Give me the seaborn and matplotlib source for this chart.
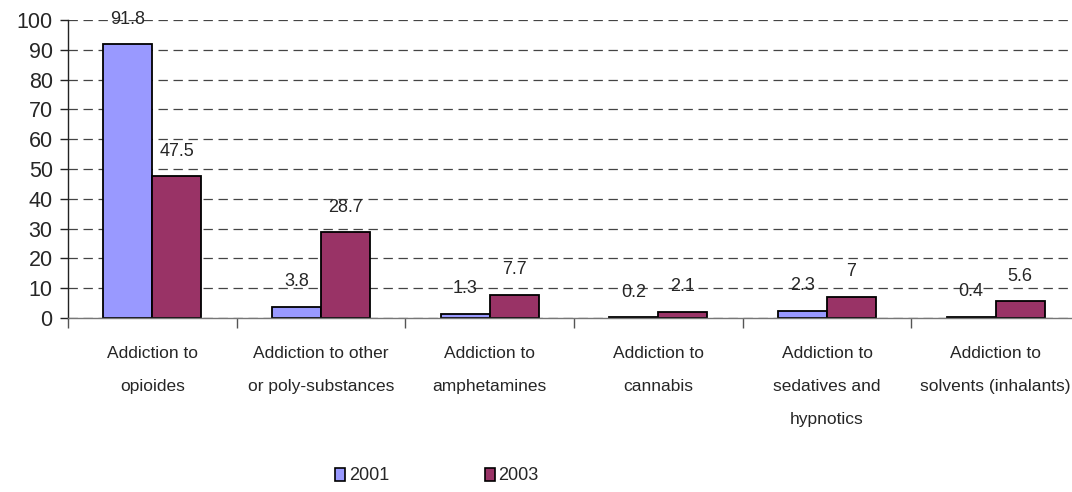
import matplotlib
matplotlib.use("Agg")
import matplotlib.pyplot as plt
import seaborn as sns
import pandas as pd
from matplotlib.patches import Patch
from matplotlib.ticker import FixedLocator, MultipleLocator

categories = [
    "Addiction to\nopioides",
    "Addiction to other\nor poly-substances",
    "Addiction to\namphetamines",
    "Addiction to\ncannabis",
    "Addiction to\nsedatives and\nhypnotics",
    "Addiction to\nsolvents (inhalants)",
]
years = ["2001", "2003"]
values_2001 = [91.8, 3.8, 1.3, 0.2, 2.3, 0.4]
values_2003 = [47.5, 28.7, 7.7, 2.1, 7.0, 5.6]
colors = ["#9999FF", "#993366"]

df = pd.DataFrame({
    "category": categories * 2,
    "year": [years[0]] * len(categories) + [years[1]] * len(categories),
    "value": values_2001 + values_2003,
})

sns.set_style("white")
plt.rcParams["font.family"] = ["Liberation Sans", "DejaVu Sans"]

fig = plt.figure(figsize=(10.72, 4.92), dpi=100)
ax = fig.add_axes([68 / 1072, 1 - 318 / 492, (1080 - 68) / 1072, (318 - 20) / 492])

sns.barplot(data=df, x="category", y="value", hue="year", palette=colors,
            width=0.58, edgecolor="black", linewidth=1.3, saturation=1,
            legend=False, ax=ax)

ax.set_ylim(0, 100)
ax.set_xlim(-0.5, len(categories) - 0.5)
ax.yaxis.set_major_locator(MultipleLocator(10))
ax.grid(axis="y", color="#444444", linestyle=(0, (7.5, 4.5)), linewidth=0.9)
ax.set_axisbelow(True)
ax.set_xlabel("")
ax.set_ylabel("")

for s in ["top", "right"]:
    ax.spines[s].set_visible(False)
ax.spines["left"].set_color("#222222")
ax.spines["left"].set_linewidth(1.0)
ax.spines["bottom"].set_color("#777777")
ax.spines["bottom"].set_linewidth(1.0)

ax.tick_params(axis="y", which="major", length=6, width=1, color="#222222",
               labelsize=15.5, pad=5, left=True)
ax.tick_params(axis="x", which="major", length=0, pad=20)
ax.xaxis.set_minor_locator(FixedLocator([i - 0.5 for i in range(len(categories) + 1)]))
ax.tick_params(axis="x", which="minor", length=7, width=1, color="#555555", bottom=True)

for lab in ax.get_xticklabels():
    lab.set_fontsize(12.5)
    lab.set_linespacing(2.5)
    lab.set_verticalalignment("top")

for cont in ax.containers:
    ax.bar_label(cont, fmt="%g", padding=12, fontsize=13)

handles = [Patch(facecolor=c, edgecolor="black", linewidth=1.2) for c in colors]
fig.legend(handles, years, loc="center", bbox_to_anchor=(437 / 1072, 1 - 476 / 492),
           ncol=2, frameon=False, fontsize=13, handlelength=0.55, handleheight=0.75,
           handletextpad=0.2, columnspacing=5.3)

fig.savefig("out.png", dpi=100)
